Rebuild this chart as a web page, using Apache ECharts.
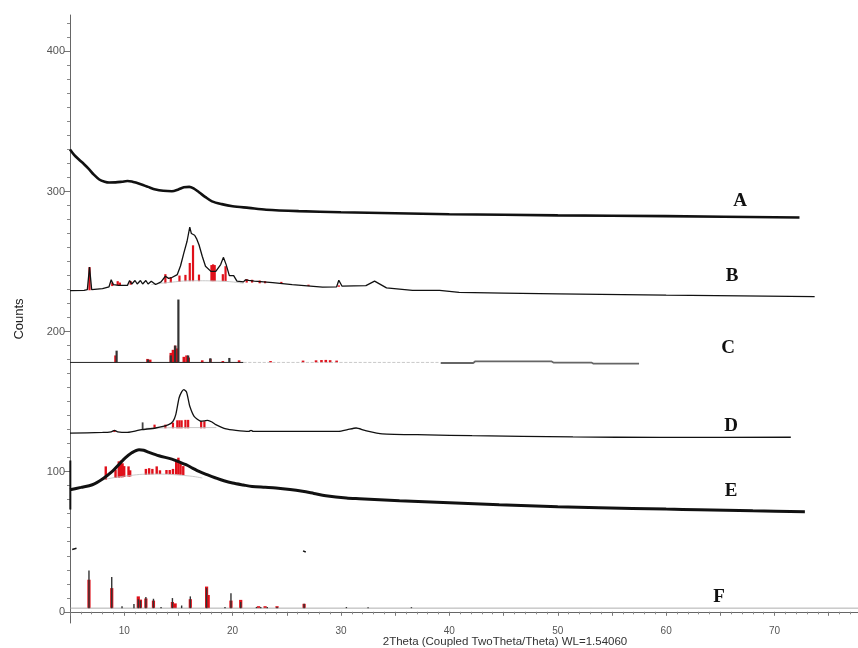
<!DOCTYPE html>
<html><head><meta charset="utf-8">
<script src="https://cdn.jsdelivr.net/npm/echarts@6/dist/echarts.min.js"></script>
<style>html,body{margin:0;padding:0;background:#fff}#c{width:858px;height:648px}</style>
</head><body><div id="c"></div>
<script>
// ---- tick labels / categories ----
const xTickLabels = [10, 20, 30, 40, 50, 60, 70];
const yTickLabels = [0, 100, 200, 300, 400];
const patternLabels = ['A', 'B', 'C', 'D', 'E', 'F'];

// ---- pattern A (measured) ----
const curveA = [[5,330],[5.4,326],[5.8,323],[6.3,319.5],[6.75,316],[7.2,312],[7.7,308.6],[8.2,307],[8.6,306.4],[9.2,306.5],[9.8,307],[10.3,307.5],[10.7,307.2],[11.2,306],[11.6,305],[12.2,303.3],[12.9,301.4],[13.6,300.5],[14.4,300.2],[15,301.5],[15.5,303],[16,303.3],[16.4,302.2],[16.9,299.5],[17.5,296],[18.1,293],[19,291],[20,289.5],[21.5,288.3],[23.1,287],[26.1,286],[30,285.2],[35,284.5],[40,283.8],[50,283],[60,282.4],[72.3,281.5]];

// ---- pattern B ----
const curveB = [[5,229.3],[6.3,229.5],[6.6,230],[6.8,246],[7.0,230],[8,230.7],[8.6,232],[8.8,237],[9.0,233.5],[9.5,233],[10.3,233],[10.5,236.5],[10.7,234],[11,236.5],[11.2,234],[11.5,236.5],[11.7,234],[12,236.5],[12.2,234],[12.5,236],[12.9,233.6],[13.4,235.5],[13.8,239.5],[14.1,238],[14.4,238.6],[14.9,240.7],[15.2,247],[15.5,256],[15.8,264.5],[16.05,274.5],[16.2,270],[16.3,269],[16.5,268.8],[16.7,266],[16.9,262],[17.2,253.8],[17.5,246.7],[18,243],[18.45,243],[18.9,247.9],[19.15,253],[19.4,248],[19.7,240],[20.1,240],[20.4,236],[21,235.5],[21.2,237],[21.5,236.5],[22,236],[23.7,235],[25.5,233.6],[28.3,231.7],[29.6,232],[29.8,236.7],[30.1,232.4],[32.3,232.8],[33.1,236],[34.2,231.2],[36.6,229.5],[39.1,229.5],[40.9,228],[45,227.5],[50,227],[60,226],[73.7,225]];
const backgroundB = [[12.5,233.5],[14,235],[16.5,236.3],[19,236],[21,234.5]];
const sticksB = [[6.8,229.5,246],[8.9,232.5,235],[9.4,233,236],[9.6,233,235],[10.6,233.5,236],[13.8,234.5,241],[14.3,235,239],[15.1,235.5,240],[15.65,236,240.5],[16.05,236,249],[16.35,236,261.6],[16.9,236,240.7],[18.05,236,247.5],[18.2,236,248],[18.35,236,247.5],[19.1,236,241],[19.35,236,246.7],[21.3,235,237.5],[21.8,235,237],[22.5,234.5,236.5],[23.0,234.5,236],[24.5,234,235.5],[27.0,232.5,233.5],[29.8,232,233]];

// ---- pattern C ----
const curveC1 = [[5,178],[21,178]];
const curveC2 = [[21,178],[39,178]];
const curveC3 = [[39.2,177.6],[42.2,177.6],[42.4,178.8],[49.4,178.8],[49.6,177.9],[53.1,177.9],[53.3,177.1],[57.5,177.1]];
const blackSticksC = [[9.3,178,186.4],[12.2,178,180],[14.3,178,183],[14.7,178,190],[15.0,178,222.9],[15.9,178,183],[17.95,178,181],[19.7,178,181.2]];
const redSticksC = [[9.2,178,183],[12.15,178,180.5],[12.4,178,180],[14.3,178,184.8],[14.5,178,187],[14.7,178,190],[14.85,178,188],[15.5,178,182],[15.75,178,183],[15.95,178,181.5],[17.2,178,179.5],[17.95,178,180.5],[19.1,178,179],[20.6,178,179.5],[23.5,178,179],[26.5,178,179.3],[27.7,178,179.5],[28.2,178,179.7],[28.6,178,179.8],[29.0,178,179.6],[29.6,178,179.3]];

// ---- pattern D ----
const curveD = [[5,127.6],[8,128],[8.8,128.5],[9.1,129.5],[9.4,128.5],[10.2,128],[11,129],[11.6,130],[12.9,131.2],[14.1,133.6],[14.5,136],[14.76,140.7],[15.06,152.6],[15.3,157],[15.5,158.6],[15.74,157],[15.9,152],[16.05,146.7],[16.45,139.5],[17.07,136],[17.4,136.3],[17.7,136.7],[18.1,135.5],[18.45,133.6],[19.4,130.5],[20.3,129.5],[21.5,128.8],[21.7,129.5],[21.9,128.8],[25.2,128.8],[29.8,128.8],[30.6,130],[31.4,131.2],[32.2,129.5],[33.8,127],[38,126.3],[42.1,125.7],[51.4,124.8],[59.4,124.5],[71.5,124.6]];
const backgroundD = [[12,131],[15,131.5],[18.5,131.5]];
const blackSticksD = [[11.7,130,135.2]];
const redSticksD = [[9.1,128.3,129.8],[12.8,131,133.6],[13.8,131,133.6],[14.5,131,135],[14.9,131,136.7],[15.1,131,136.7],[15.3,131,136.7],[15.65,131,137],[15.9,131,137],[17.1,131,136],[17.4,131,136]];

// ---- pattern E ----
const curveE = [[5,87.1],[6,88.8],[7.06,90.7],[8,94.8],[8.9,100.2],[9.5,105],[10.1,109.8],[10.7,113.5],[11.37,115.7],[11.8,115.3],[12.3,113.8],[13.2,111.4],[14.4,109],[15,107.2],[15.7,105],[16.3,102.6],[16.9,100.2],[17.7,97.7],[18.45,95.5],[19.2,93.5],[20,91.9],[21,90.5],[21.8,89.5],[23,88.9],[24,88.4],[25.3,87.3],[26.45,86],[27.5,84.5],[28.6,82.9],[30.5,81.2],[31.7,80.7],[35.4,79.3],[40,77.8],[44.6,76.4],[50,75],[53.8,74.3],[60,73.3],[63,72.9],[68,72.1],[72.8,71.4]];
const backgroundE = [[7.9,94],[10,96.8],[12.8,98.3],[15.8,97.1],[17.2,95.5]];
const redSticksE = [[8.3,94.3,103.8],[9.2,95.5,101.5],[9.5,95.8,107.4],[9.7,96,108],[9.85,96,106],[10.0,96.2,104],[10.4,96.5,103.8],[10.55,96.6,101],[12.0,97.8,102],[12.3,98,102.5],[12.6,98.1,102],[13.0,98.3,103.8],[13.3,98.3,101],[13.9,98.3,101.2],[14.2,98.2,101.2],[14.5,98.1,102],[14.8,98,107],[15.0,97.9,110],[15.2,97.8,107],[15.45,97.6,104]];

// ---- pattern F ----
const baselineF = [[5,2.6],[77.7,2.6]];
const blackSticksF = [[6.75,2.6,29.5],[8.85,2.6,24.8],[9.8,2.6,4],[10.9,2.6,5.5],[11.3,2.6,9],[11.5,2.6,8],[12.0,2.6,10.5],[12.7,2.6,9.3],[13.4,2.6,3.5],[14.45,2.6,9.8],[15.3,2.6,4.5],[16.1,2.6,11],[17.6,2.6,16.9],[19.3,2.6,3.5],[19.85,2.6,13.3],[20.75,2.6,7],[22.2,2.6,3.5],[22.6,2.6,3.5],[23.2,2.6,3.5],[24.1,2.6,3.5],[26.6,2.6,5.7],[30.5,2.6,3.4],[32.5,2.6,3.3],[36.5,2.6,3.3]];
const redSticksF = [[6.75,2.6,22.9],[8.85,2.6,16.9],[11.3,2.6,11],[11.5,2.6,8.7],[12.0,2.6,9.5],[12.7,2.6,8],[14.45,2.6,7],[14.7,2.6,6],[16.1,2.6,9],[17.6,2.6,18],[17.75,2.6,12],[19.85,2.6,8],[20.75,2.6,8.5],[22.4,2.6,4],[23,2.6,4],[24.1,2.6,4],[26.6,2.6,5.7]];

// ---- stray marks on the original scan ----
const strayBar = [[5.03,108],[5.03,73]];
const strayDash1 = [[5.2,44.5],[5.6,45.3]];
const strayDash2 = [[26.5,43.5],[26.75,42.7]];

const RED = '#e0101a';

function lineSeries(data, color, width, extra) {
  return Object.assign({
    type: 'line', data: data, showSymbol: false, symbol: 'none',
    lineStyle: { color: color, width: width }, silent: true, animation: false
  }, extra || {});
}
function stickSeries(data, color, width, z) {
  return {
    type: 'custom', data: data, encode: { x: 0, y: [1, 2] }, silent: true, animation: false, z: z || 2,
    renderItem: function (params, api) {
      const p0 = api.coord([api.value(0), api.value(1)]);
      const p1 = api.coord([api.value(0), api.value(2)]);
      return { type: 'line', shape: { x1: p0[0], y1: p0[1], x2: p1[0], y2: p1[1] },
               style: { stroke: color, lineWidth: width } };
    }
  };
}

const labelFont = { fontFamily: '"Liberation Serif", serif', fontWeight: 'bold', fontSize: 19, fill: '#111' };
const letterPos = [[740,201],[732,276],[728,348],[731,426],[731,491],[719,597]];

const chart = echarts.init(document.getElementById('c'), null, { renderer: 'canvas' });
chart.setOption({
  animation: false,
  backgroundColor: '#fff',
  grid: { left: 70, right: 0, top: 15, bottom: 25, containLabel: false, outerBoundsMode: 'none' },
  xAxis: {
    type: 'value', min: 5, max: 77.7, interval: 5,
    name: '2Theta (Coupled TwoTheta/Theta) WL=1.54060', nameLocation: 'middle', nameGap: 13, nameMoveOverlap: false,
    nameTextStyle: { fontFamily: '"Liberation Sans", Arial', fontSize: 11.5, color: '#333', padding: [0, 0, 0, 82] },
    axisLine: { show: true, lineStyle: { color: '#666', width: 1 } },
    axisTick: { show: true, length: 4, lineStyle: { color: '#777' } },
    minorTick: { show: true, splitNumber: 5, length: 2.5, lineStyle: { color: '#888' } },
    axisLabel: { fontFamily: '"Liberation Sans", Arial', fontSize: 10, color: '#555', margin: 3,
      formatter: function (v) { return xTickLabels.indexOf(Math.round(v * 100) / 100) >= 0 ? String(v) : ''; } },
    splitLine: { show: false }
  },
  yAxis: {
    type: 'value', min: -8, max: 426,
    name: 'Counts', nameLocation: 'middle', nameGap: 44, nameMoveOverlap: false,
    nameTextStyle: { fontFamily: '"Liberation Sans", Arial', fontSize: 13, color: '#222' },
    axisLine: { show: true, lineStyle: { color: '#666', width: 1 } },
    axisTick: { show: true, length: 6, customValues: yTickLabels, lineStyle: { color: '#777' } },
    minorTick: { show: true, splitNumber: 10, length: 3, lineStyle: { color: '#888' } },
    axisLabel: { fontFamily: '"Liberation Sans", Arial', fontSize: 11, color: '#555', margin: 5, customValues: yTickLabels },
    splitLine: { show: false }
  },
  graphic: patternLabels.map(function (t, i) {
    return { type: 'text', x: letterPos[i][0], y: letterPos[i][1],
      style: Object.assign({ text: t, textAlign: 'center', textVerticalAlign: 'middle' }, labelFont) };
  }),
  series: [
    lineSeries(curveA, '#111', 2.6, { smooth: 0.3 }),
    lineSeries(backgroundB, '#bbb', 0.8, { smooth: true }),
    lineSeries(curveB, '#111', 1.3),
    stickSeries(sticksB, RED, 2.2, 3),
    lineSeries(curveC1, '#222', 1),
    lineSeries(curveC2, '#bbb', 0.8, { lineStyle: { color: '#bbb', width: 0.8, type: 'dashed' } }),
    lineSeries(curveC3, '#666', 1.8),
    stickSeries(redSticksC, RED, 2.6, 3),
    stickSeries(blackSticksC, '#333', 2.2, 4),
    lineSeries(backgroundD, '#bbb', 0.8),
    lineSeries(curveD, '#111', 1.3, { smooth: 0.2 }),
    stickSeries(blackSticksD, '#444', 1.8, 3),
    stickSeries(redSticksD, RED, 2.2, 3),
    lineSeries(backgroundE, '#bbb', 0.8, { smooth: true }),
    lineSeries(curveE, '#111', 3, { smooth: 0.3 }),
    stickSeries(redSticksE, RED, 2.4, 3),
    lineSeries(baselineF, '#999', 0.8),
    stickSeries(redSticksF, RED, 3.2, 3),
    stickSeries(blackSticksF, '#333', 1.4, 4),
    lineSeries(strayBar, '#111', 2),
    lineSeries(strayDash1, '#111', 1.5),
    lineSeries(strayDash2, '#111', 1.5)
  ]
});
</script>
</body></html>
